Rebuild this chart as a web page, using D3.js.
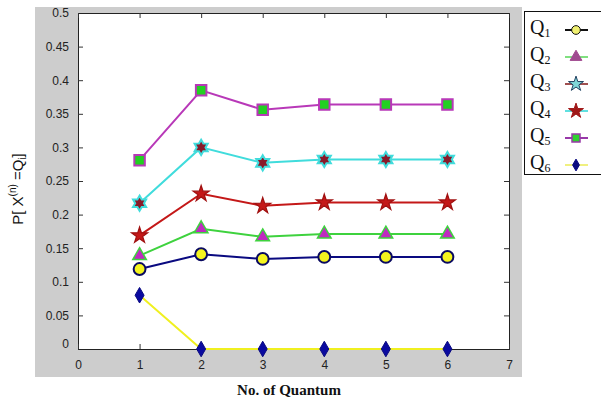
<!DOCTYPE html>
<html><head><meta charset="utf-8">
<script src="https://cdn.jsdelivr.net/npm/d3@7"></script>
<style>body{margin:0;background:#fff}svg{display:block}</style>
</head><body><svg id="c" width="601" height="401"></svg>
<script>
const quantum = [1, 2, 3, 4, 5, 6];
const seriesNames = ["Q1", "Q2", "Q3", "Q4", "Q5", "Q6"];
const q1 = [0.119, 0.141, 0.134, 0.137, 0.137, 0.137];
const q2 = [0.139, 0.179, 0.167, 0.171, 0.171, 0.171];
const q3 = [0.217, 0.300, 0.277, 0.282, 0.282, 0.282];
const q4 = [0.169, 0.231, 0.213, 0.218, 0.218, 0.218];
const q5 = [0.281, 0.385, 0.356, 0.364, 0.364, 0.364];
const q6 = [0.080, 0, 0, 0, 0, 0];
const xTicks = [0, 1, 2, 3, 4, 5, 6, 7];
const yTicks = [0, 0.05, 0.1, 0.15, 0.2, 0.25, 0.3, 0.35, 0.4, 0.45, 0.5];

const hexagram = {
  draw(ctx, size) {
    const R = Math.sqrt(size) * 0.72, r = R * 0.58;
    for (let i = 0; i < 12; i++) {
      const a = -Math.PI / 2 + i * Math.PI / 6, rr = i % 2 ? r : R;
      const x = rr * Math.cos(a), y = rr * Math.sin(a);
      i ? ctx.lineTo(x, y) : ctx.moveTo(x, y);
    }
    ctx.closePath();
  }
};

const styles = [
  {vals: q1, line: "#0a0a80", sym: d3.symbolCircle, size: 110, fill: "#f5f51e", stroke: "#0a0a60", sw: 2},
  {vals: q2, line: "#3ed23e", sym: d3.symbolTriangle, size: 80, fill: "#c02ac0", stroke: "#3ed23e", sw: 1.5},
  {vals: q3, line: "#40dcdc", sym: hexagram, size: 110, fill: "#8a1a2a", stroke: "#40dcdc", sw: 2},
  {vals: q4, line: "#c41818", sym: d3.symbolStar, size: 80, fill: "#c41818", stroke: "#a01010", sw: 1.2},
  {vals: q5, line: "#b838b8", sym: d3.symbolSquare, size: 110, fill: "#22d022", stroke: "#b838b8", sw: 2},
  {vals: q6, line: "#f0f020", sym: d3.symbolDiamond, size: 70, fill: "#0a0aa0", stroke: "#0a0a80", sw: 1}
];
const legendStyles = [
  {line: "#111", sym: d3.symbolCircle, size: 60, fill: "#f0f070", stroke: "#111", sw: 1},
  {line: "#80e080", sym: d3.symbolTriangle, size: 60, fill: "#a04a90", stroke: "#a04a90", sw: 1},
  {line: "#a05050", sym: d3.symbolStar, size: 70, fill: "#80d8d8", stroke: "#204060", sw: 1},
  {line: "#60e0e0", sym: d3.symbolStar, size: 70, fill: "#a01818", stroke: "#a01818", sw: 1},
  {line: "#9838a8", sym: d3.symbolSquare, size: 64, fill: "#30d030", stroke: "#9838a8", sw: 1.5},
  {line: "#f0f080", sym: d3.symbolDiamond, size: 40, fill: "#0a0a80", stroke: "#0a0a80", sw: 1}
];

const svg = d3.select("#c");
svg.append("rect").attr("x", 35).attr("y", 7).attr("width", 487).attr("height", 370).attr("fill", "#cdcdcd");

const L = 78, R = 509, T = 13, B = 349;
const x = d3.scaleLinear().domain([0, 7]).range([L, R]);
const y = d3.scaleLinear().domain([0, 0.5]).range([B, T]);

svg.append("rect").attr("x", L).attr("y", T).attr("width", R - L).attr("height", B - T)
  .attr("fill", "#fff");

const tickLen = 5;
const axL = svg.append("g").attr("transform", `translate(${L},0)`)
  .call(d3.axisLeft(y).tickValues(yTicks).tickSize(-tickLen).tickPadding(tickLen + 4).tickFormat(d3.format("")));
const axR = svg.append("g").attr("transform", `translate(${R},0)`)
  .call(d3.axisRight(y).tickValues(yTicks).tickSize(-tickLen).tickFormat(""));
const axB = svg.append("g").attr("transform", `translate(0,${B})`)
  .call(d3.axisBottom(x).tickValues(xTicks).tickSize(-tickLen).tickPadding(tickLen + 6).tickFormat(d3.format("d")));
const axT = svg.append("g").attr("transform", `translate(0,${T})`)
  .call(d3.axisTop(x).tickValues(xTicks).tickSize(-tickLen).tickFormat(""));
[axL, axR, axB, axT].forEach(a => {
  a.select(".domain").attr("stroke", "#222");
  a.selectAll(".tick line").attr("stroke", "#333");
  a.selectAll("text").attr("font-family", "Liberation Sans, Arial, sans-serif").attr("font-size", 12).attr("fill", "#222");
});
// MATLAB places the y "0" label slightly higher
axL.selectAll(".tick text").filter(d => d === 0).attr("dy", "-0.1em");

const line = d3.line().x((d, i) => x(quantum[i])).y(d => y(d));
styles.forEach(s => {
  svg.append("path").datum(s.vals).attr("d", line).attr("fill", "none")
    .attr("stroke", s.line).attr("stroke-width", 2);
});
styles.forEach(s => {
  svg.append("g").selectAll("path").data(s.vals).join("path")
    .attr("transform", (d, i) => `translate(${x(quantum[i])},${y(d)})`)
    .attr("d", d3.symbol().type(s.sym).size(s.size))
    .attr("fill", s.fill).attr("stroke", s.stroke).attr("stroke-width", s.sw);
});

// Axis labels
const yl = svg.append("text").attr("transform", "translate(23,189) rotate(-90)")
  .attr("text-anchor", "middle").attr("font-family", "Liberation Sans, Arial, sans-serif")
  .attr("font-size", 15).attr("fill", "#111");
yl.append("tspan").text("P[ X");
yl.append("tspan").attr("font-size", 10).attr("dy", -7).text("(n)");
yl.append("tspan").attr("dy", 7).text(" =Q");
yl.append("tspan").attr("font-size", 10).attr("dy", 3).text("i");
yl.append("tspan").attr("dy", -3).text("]");

svg.append("text").attr("x", 289).attr("y", 395).attr("text-anchor", "middle")
  .attr("font-family", "Liberation Serif, Times New Roman, serif").attr("font-weight", "bold")
  .attr("font-size", 15).attr("fill", "#111").text("No. of Quantum");

// Legend
const lg = svg.append("g");
lg.append("rect").attr("x", 524.5).attr("y", 11.5).attr("width", 80).attr("height", 163)
  .attr("fill", "#fff").attr("stroke", "#111").attr("stroke-width", 1);
const rowY = d3.scalePoint().domain(seriesNames).range([30, 165]);
seriesNames.forEach((n, i) => {
  const ls = legendStyles[i];
  const cy = rowY(n);
  const t = lg.append("text").attr("x", 530).attr("y", cy + 4)
    .attr("font-family", "Liberation Serif, Times New Roman, serif").attr("font-size", 20).attr("fill", "#111");
  t.append("tspan").text(n[0]);
  t.append("tspan").attr("font-size", 12).attr("dy", 3).text(n.slice(1));
  lg.append("line").attr("x1", 565).attr("x2", 588).attr("y1", cy).attr("y2", cy)
    .attr("stroke", ls.line).attr("stroke-width", 2);
  lg.append("path").attr("transform", `translate(576,${cy})`)
    .attr("d", d3.symbol().type(ls.sym).size(ls.size))
    .attr("fill", ls.fill).attr("stroke", ls.stroke).attr("stroke-width", ls.sw);
});
</script></body></html>
